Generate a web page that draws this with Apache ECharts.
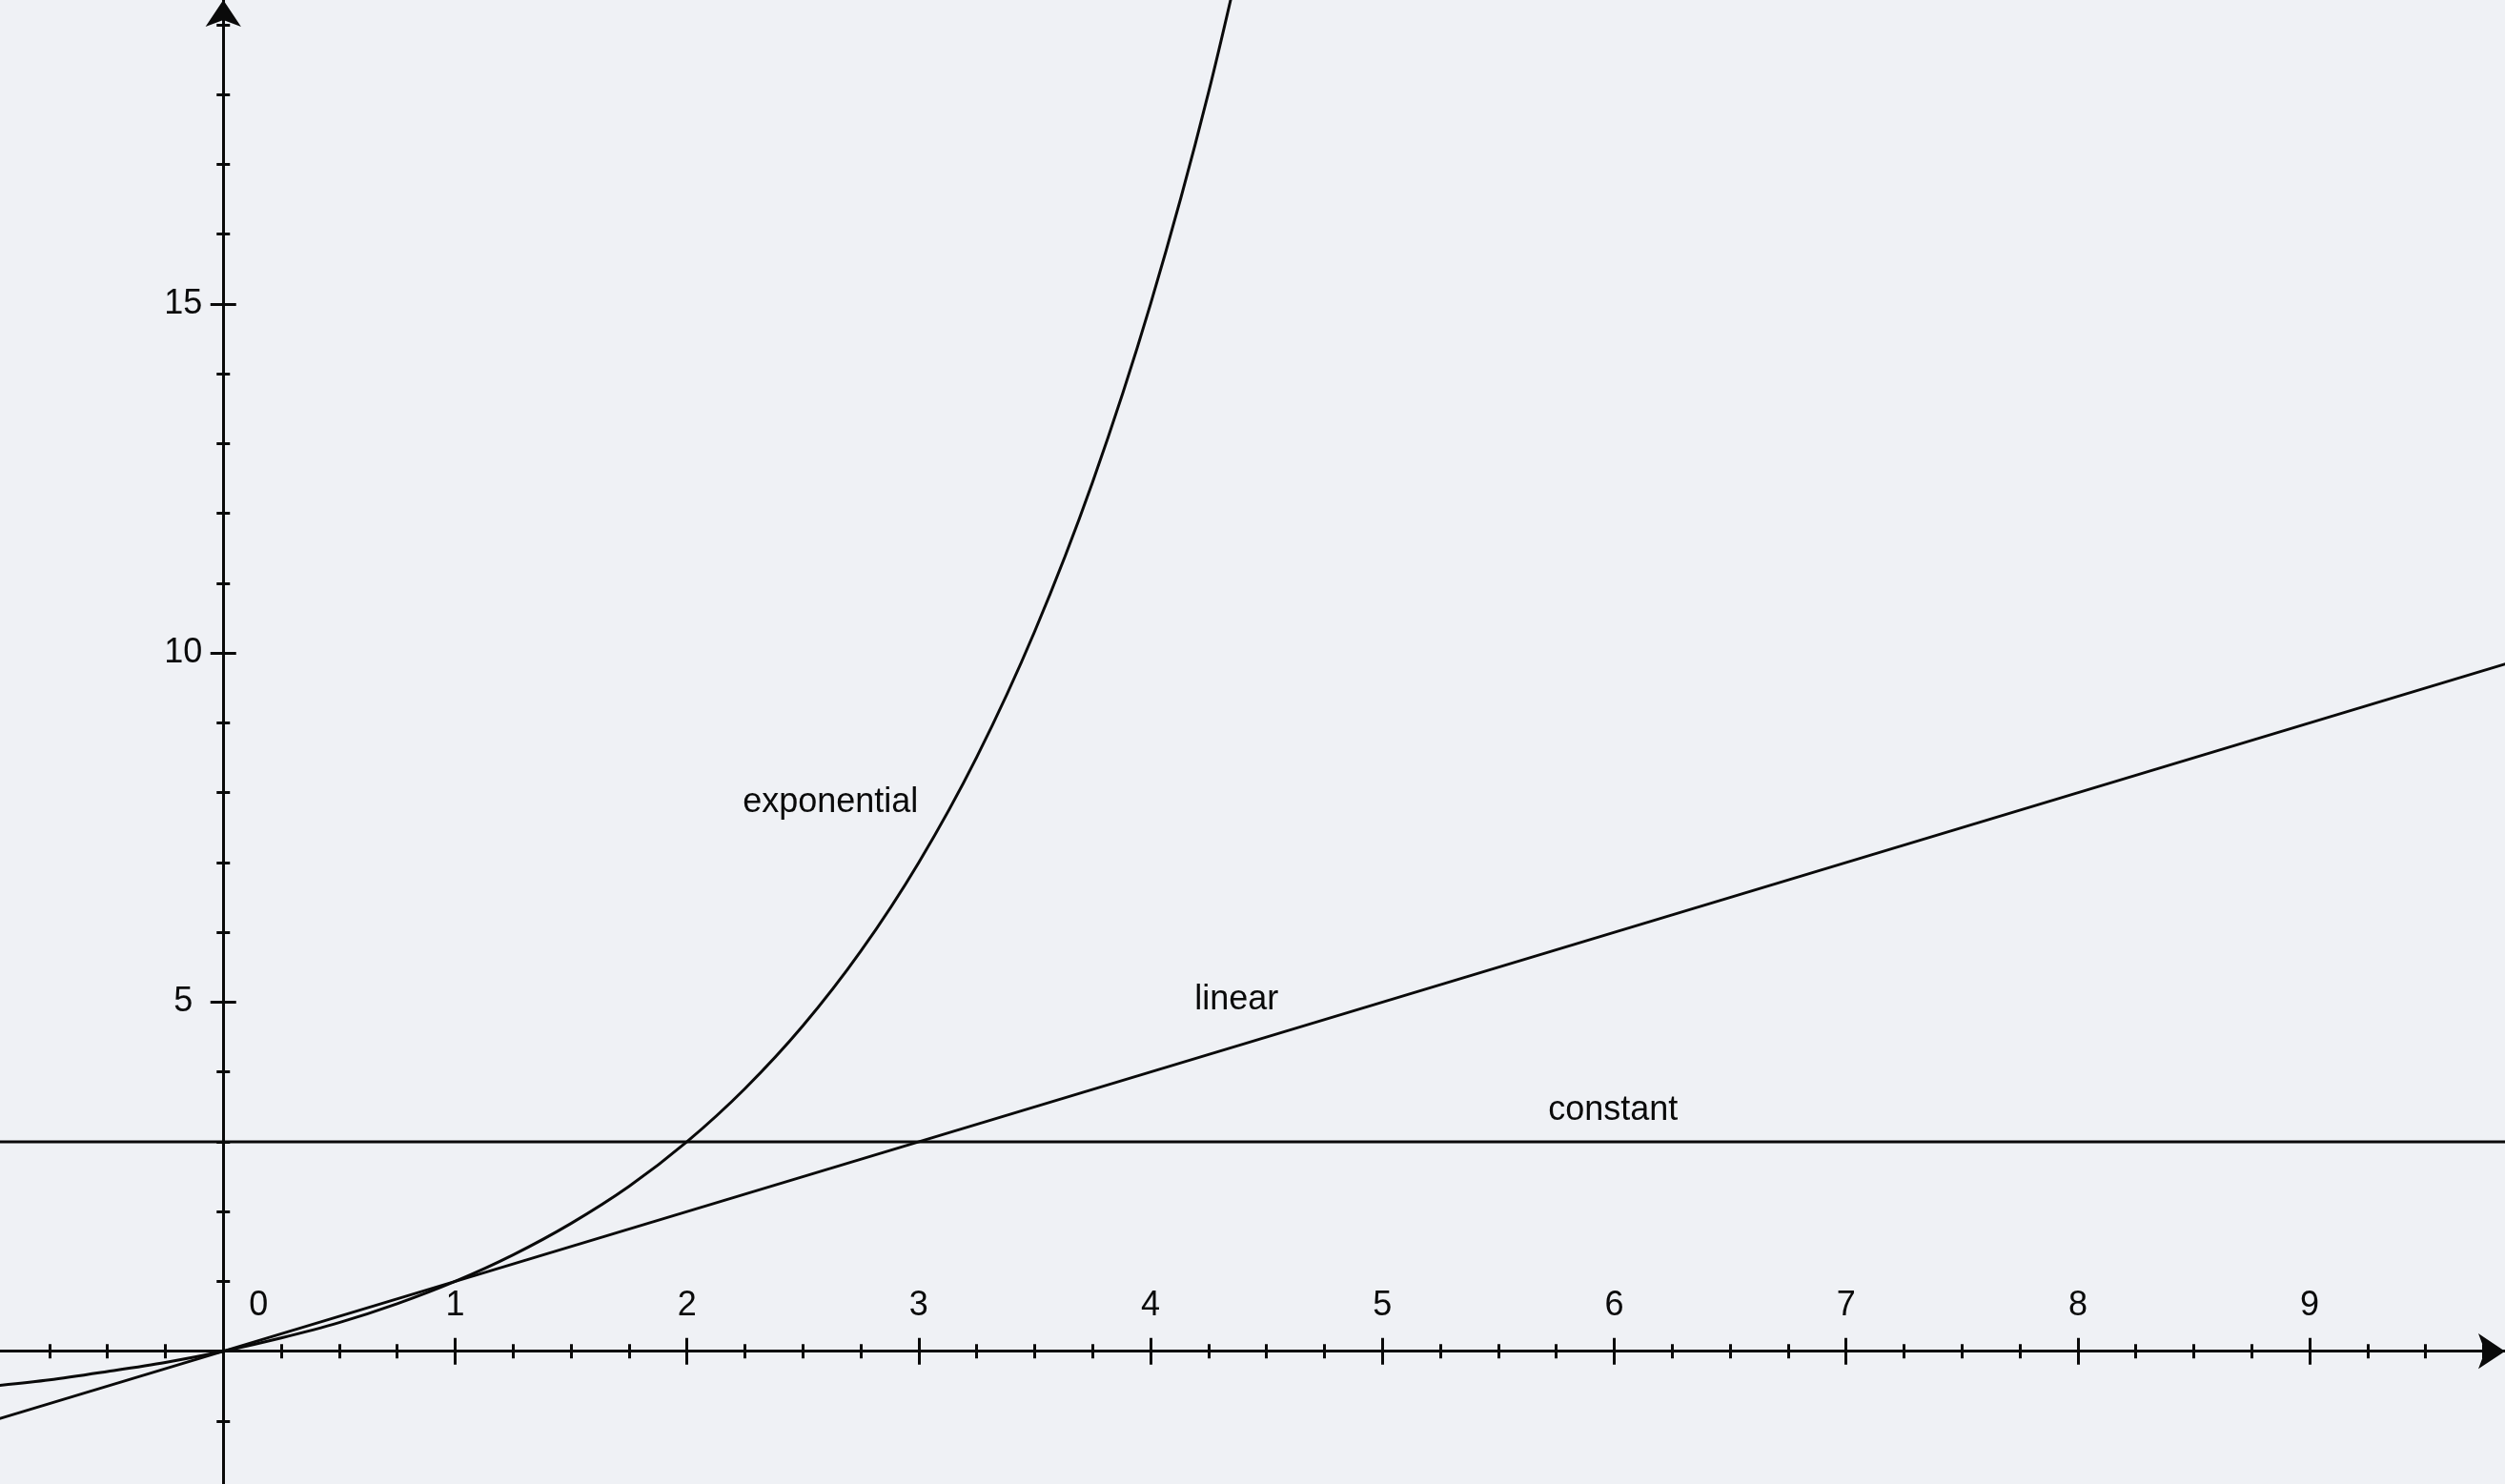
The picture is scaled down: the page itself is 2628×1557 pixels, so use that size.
<!DOCTYPE html>
<html>
<head>
<meta charset="utf-8">
<title>growth</title>
<script src="https://cdn.jsdelivr.net/npm/echarts@6/dist/echarts.min.js"></script>
<style>
html,body{margin:0;padding:0;background:#eff1f5;}
#main{width:2628px;height:1557px;}
</style>
</head>
<body>
<div id="main"></div>
<script>
// curves
var expX = [-1, -0.75, -0.5, -0.25, 0, 0.25, 0.5, 0.75, 1, 1.25, 1.5, 1.75, 2, 2.25, 2.5, 2.75, 3, 3.25, 3.5, 3.75, 4, 4.25, 4.5]
var expY = [-0.5, -0.41, -0.29, -0.16, 0, 0.19, 0.41, 0.68, 1, 1.38, 1.83, 2.36, 3, 3.76, 4.66, 5.73, 7, 8.51, 10.31, 12.45, 15, 18.03, 21.63]
var linX = [-1, 10]
var linY = [-1, 10]
var constX = [-1, 10]
var constY = [3, 3]

// ticks and labels
var xLabels = [0, 1, 2, 3, 4, 5, 6, 7, 8, 9]
var xMajor = [1, 2, 3, 4, 5, 6, 7, 8, 9]
var xMinor = [-0.75, -0.5, -0.25, 0.25, 0.5, 0.75, 1.25, 1.5, 1.75, 2.25, 2.5, 2.75, 3.25, 3.5, 3.75,
	4.25, 4.5, 4.75, 5.25, 5.5, 5.75, 6.25, 6.5, 6.75, 7.25, 7.5, 7.75, 8.25, 8.5, 8.75, 9.25, 9.5, 9.75]
var yMajor = [5, 10, 15]
var yMinor = [-1, 1, 2, 3, 4, 6, 7, 8, 9, 11, 12, 13, 14, 16, 17, 18, 19]

var ink = '#0a0a0a'
var font = 'Liberation Sans, Arial, Helvetica, sans-serif'
var xMin = -0.9632, xMax = 9.8424
var yMin = -1.902, yMax = 19.354

function zip(a, b){
	var out = []
	for(var i=0;i<a.length;i++){
		out.push([a[i], b[i]])
	}
	return out
}

var chart = echarts.init(document.getElementById('main'))
var W = chart.getWidth(), H = chart.getHeight()
// where zero sits, measured from the grid edges (grid fills the page)
var zeroLeft = (0 - xMin) / (xMax - xMin) * W
var zeroTop = yMax / (yMax - yMin) * H
var edgeOffset = {
	top: -zeroTop,
	bottom: -(H - zeroTop),
	left: -zeroLeft,
	right: -(W - zeroLeft)
}

// one axis; ticks only point one way in echarts, so each side gets its own axis,
// all moved onto zero with offset
function ax(dim, grid, pos, ticks, len, arrow, label){
	return {
		type: 'value',
		gridIndex: grid,
		position: pos,
		offset: edgeOffset[pos],
		min: dim == 'x' ? xMin : yMin,
		max: dim == 'x' ? xMax : yMax,
		splitLine: {show: false},
		axisLine: {
			show: true,
			onZero: false,
			symbol: arrow ? ['none', 'arrow'] : ['none', 'none'],
			symbolSize: [28, 28],
			symbolOffset: [0, 0],
			lineStyle: {color: ink, width: 3}
		},
		axisTick: {show: true, customValues: ticks, length: len, lineStyle: {color: ink, width: 3}},
		axisLabel: label || {show: false}
	}
}

var option = {
	backgroundColor: '#eff1f5',
	animation: false,
	grid: [
		{left: 0, right: 0, top: 0, bottom: 0, outerBoundsMode: 'none'},
		{left: 0, right: 0, top: 0, bottom: 0, outerBoundsMode: 'none'}
	],
	xAxis: [
		ax('x', 0, 'top', xMajor, 14, false, {
			show: true,
			customValues: xLabels,
			margin: 30,
			fontSize: 36,
			color: ink,
			fontFamily: font,
			formatter: function(v){
				return v === 0 ? '{z|0}' : String(v)
			},
			rich: {z: {fontSize: 36, color: ink, fontFamily: font, padding: [0, 0, 0, 74]}}
		}),
		ax('x', 0, 'bottom', xMajor, 14, true),
		ax('x', 1, 'top', xMinor, 7.5, false),
		ax('x', 1, 'bottom', xMinor, 7.5, false)
	],
	yAxis: [
		ax('y', 0, 'left', yMajor, 13.5, true, {
			show: true,
			customValues: yMajor,
			margin: 42,
			align: 'center',
			fontSize: 36,
			color: ink,
			fontFamily: font
		}),
		ax('y', 0, 'right', yMajor, 13.5, false),
		ax('y', 1, 'left', yMinor, 7, false),
		ax('y', 1, 'right', yMinor, 7, false)
	],
	series: [
		{
			name: 'exponential',
			type: 'line',
			xAxisIndex: 0,
			yAxisIndex: 0,
			data: zip(expX, expY),
			smooth: 0.3,
			showSymbol: false,
			lineStyle: {color: ink, width: 3},
			markPoint: {
				symbol: 'circle',
				symbolSize: 0,
				silent: true,
				label: {show: true, position: 'inside', formatter: 'exponential', fontSize: 36, color: ink, fontFamily: font},
				data: [{coord: [2.619, 7.86]}]
			}
		},
		{
			name: 'linear',
			type: 'line',
			xAxisIndex: 0,
			yAxisIndex: 0,
			data: zip(linX, linY),
			showSymbol: false,
			lineStyle: {color: ink, width: 3},
			markPoint: {
				symbol: 'circle',
				symbolSize: 0,
				silent: true,
				label: {show: true, position: 'inside', formatter: 'linear', fontSize: 36, color: ink, fontFamily: font},
				data: [{coord: [4.371, 5.03]}]
			}
		},
		{
			name: 'constant',
			type: 'line',
			xAxisIndex: 0,
			yAxisIndex: 0,
			data: zip(constX, constY),
			showSymbol: false,
			lineStyle: {color: ink, width: 3},
			markPoint: {
				symbol: 'circle',
				symbolSize: 0,
				silent: true,
				label: {show: true, position: 'inside', formatter: 'constant', fontSize: 36, color: ink, fontFamily: font},
				data: [{coord: [5.995, 3.455]}]
			}
		}
	]
}

chart.setOption(option)
</script>
</body>
</html>
